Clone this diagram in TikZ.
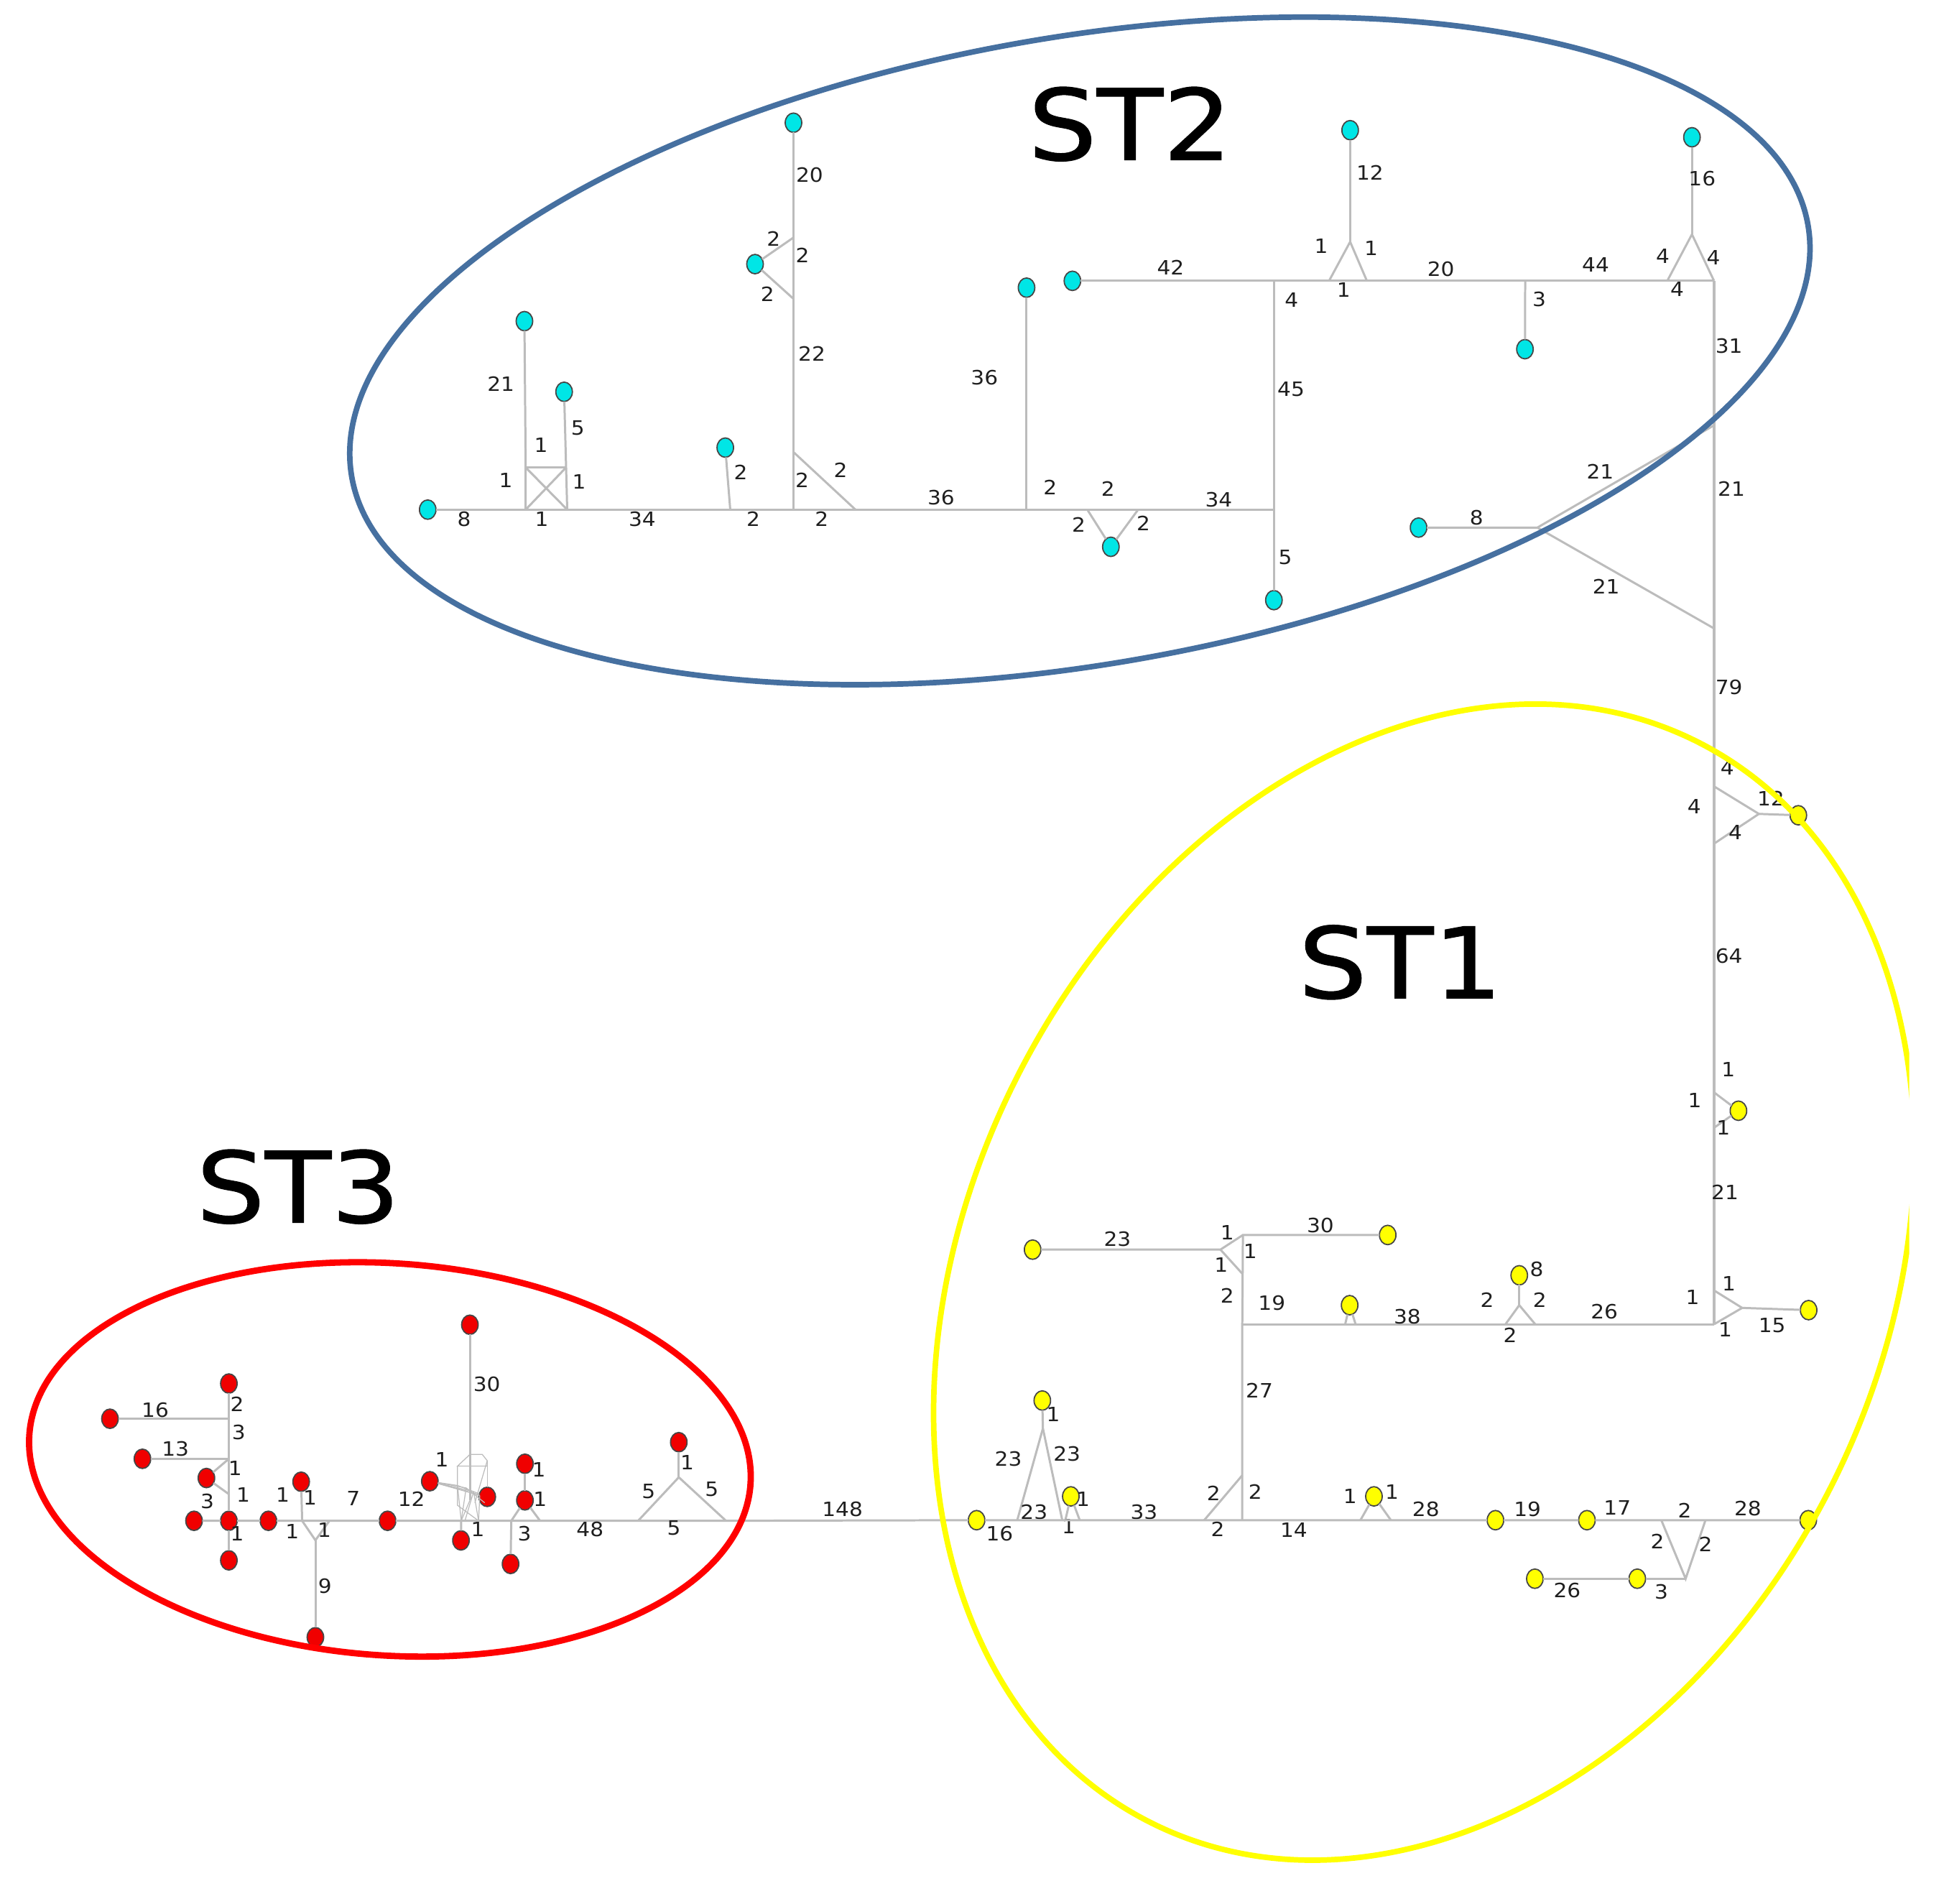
\documentclass[tikz,border=0pt]{standalone}
\usepackage{fontspec}
\setmainfont{DejaVu Sans}
\newfontfamily\titlefont[FakeBold=0.8]{DejaVu Sans}
\usetikzlibrary{shapes.geometric}
\definecolor{cyanN}{RGB}{0,230,230}
\definecolor{yelN}{RGB}{255,255,0}
\definecolor{redN}{RGB}{240,0,0}
\definecolor{edgeG}{RGB}{188,188,188}
\definecolor{nodeE}{RGB}{70,70,70}
\definecolor{stblue}{RGB}{70,112,160}
\definecolor{styel}{RGB}{255,255,0}
\definecolor{stred}{RGB}{255,0,0}
\newcounter{lbc}
\newcommand\lab[2]{\stepcounter{lbc}\node[lbl] (lb\arabic{lbc}) at (#1) {#2};}
\tikzset{
 vnode/.style={ellipse, draw=nodeE, line width=0.5pt, minimum width=0.23cm, minimum height=0.27cm, inner sep=0pt, outer sep=0pt},
 cn/.style={vnode, fill=cyanN},
 yn/.style={vnode, fill=yelN},
 rn/.style={vnode, fill=redN},
 edge/.style={draw=edgeG, line width=0.85pt},
 trunk/.style={draw=edgeG, line width=1.15pt},
 fine/.style={draw=edgeG, line width=0.35pt},
 lbl/.style={font=\fontsize{7.8}{9}\selectfont, text=black!88, inner sep=0pt, xscale=1.08},
 title/.style={font=\titlefont\fontsize{39}{44}\selectfont, inner sep=0pt, anchor=base, xscale=1.1},
}
\begin{document}
\begin{tikzpicture}[x=0.017258cm, y=-0.017258cm]
\fill[white] (0,0) rectangle (1568,1535);
\useasboundingbox (0,0) rectangle (1568,1535);

% ================= ST2 =================
\node[cn] (c1) at (345,411) {};
\node[cn] (c2) at (423,259) {};
\node[cn] (c3) at (455,316) {};
\node[cn] (c4) at (585,361) {};
\node[cn] (c5) at (640,99) {};
\node[cn] (c6) at (609,213) {};
\node[cn] (c7) at (828,232) {};
\node[cn] (c8) at (865,226.5) {};
\node[cn] (c9) at (896,441) {};
\node[cn] (c10) at (1027.5,484) {};
\node[cn] (c11) at (1089,105) {};
\node[cn] (c12) at (1230,281.6) {};
\node[cn] (c13) at (1364.7,110.7) {};
\node[cn] (c14) at (1144.2,425.5) {};

\coordinate (j1) at (424,411);
\coordinate (j2) at (457.5,411);
\coordinate (j3) at (424,377);
\coordinate (j4) at (456.6,377);
\coordinate (j5) at (589,411);
\coordinate (j6) at (640,411);
\coordinate (j7) at (640,191.6);
\coordinate (j8) at (640,241);
\coordinate (j9) at (640,364.6);
\coordinate (j10) at (690,411);
\coordinate (j11) at (828,411);
\coordinate (j12) at (877,411);
\coordinate (j13) at (918,411);
\coordinate (j14) at (1027.5,411);
\coordinate (j15) at (1027.5,226.5);
\coordinate (j16) at (1072,226.5);
\coordinate (j17) at (1102.5,226.5);
\coordinate (j18) at (1089,195);
\coordinate (j19) at (1230.2,226.5);
\coordinate (j20) at (1344.8,226.5);
\coordinate (j21) at (1382.5,226.5);
\coordinate (j22) at (1364.7,189);
\coordinate (j23) at (1240,425.5);
\coordinate (j24) at (1382.5,343);
\coordinate (j25) at (1382.5,506.8);

\draw[edge] (c1) -- (j1) -- (j2) -- (j5) -- (j6) -- (j10) -- (j11) -- (j12) -- (j13) -- (j14);
\draw[edge] (c2) -- (j3) -- (j1);
\draw[edge] (c3) -- (j4) -- (j2);
\draw[edge] (j3) -- (j4);
\draw[edge] (j3) -- (j2);
\draw[edge] (j4) -- (j1);
\draw[edge] (c4) -- (j5);
\draw[edge] (c5) -- (j7) -- (j8) -- (j9) -- (j6);
\draw[edge] (j7) -- (c6) -- (j8);
\draw[edge] (j9) -- (j10);
\draw[edge] (c7) -- (j11);
\draw[edge] (j12) -- (c9) -- (j13);
\draw[edge] (c10) -- (j14) -- (j15);
\draw[edge] (c8) -- (j15) -- (j16) -- (j17) -- (j19) -- (j20) -- (j21);
\draw[edge] (j16) -- (j18) -- (j17);
\draw[edge] (j18) -- (c11);
\draw[edge] (j19) -- (c12);
\draw[edge] (j20) -- (j22) -- (j21);
\draw[edge] (j22) -- (c13);
\draw[edge] (c14) -- (j23) -- (j24);
\draw[edge] (j23) -- (j25);

\lab{374.4,418.6}{8}
\lab{404,309.5}{21}
\lab{466,345.4}{5}
\lab{436.4,358.8}{1}
\lab{408,387.4}{1}
\lab{467,388.6}{1}
\lab{437,418.6}{1}
\lab{518,418.6}{34}
\lab{597.4,381}{2}
\lab{607.6,418.6}{2}
\lab{653,141}{20}
\lab{624,192.8}{2}
\lab{647.3,206}{2}
\lab{619,237.3}{2}
\lab{654.8,285.3}{22}
\lab{678,379}{2}
\lab{647,387.4}{2}
\lab{662.8,418.6}{2}
\lab{794,304.8}{36}
\lab{759,401.4}{36}
\lab{944.2,215.6}{42}
\lab{1041.8,242}{4}
\lab{1041.3,314}{45}
\lab{1036.6,449.6}{5}
\lab{983,403.2}{34}
\lab{847,392.9}{2}
\lab{893.7,394}{2}
\lab{870,423}{2}
\lab{922.2,422}{2}
\lab{1105,139.3}{12}
\lab{1065.6,198.7}{1}
\lab{1105.9,200}{1}
\lab{1083.8,233.7}{1}
\lab{1162.2,217.1}{20}
\lab{1241.5,241.6}{3}
\lab{1287,213.6}{44}
\lab{1372.9,143.8}{16}
\lab{1341.2,206.7}{4}
\lab{1382,207.7}{4}
\lab{1352.7,233.4}{4}
\lab{1394.5,279.2}{31}
\lab{1396.5,394.5}{21}
\lab{1191,417.6}{8}
\lab{1290.7,380.3}{21}
\lab{1295.5,472.8}{21}

% ================= ST1 =================
\node[yn] (y1) at (1450.5,657.5) {};
\node[yn] (y2) at (1402.2,895.8) {};
\node[yn] (y3) at (1458.8,1056.6) {};
\node[yn] (y4) at (1088.6,1052.6) {};
\node[yn] (y5) at (1225.4,1028.5) {};
\node[yn] (y6) at (832.9,1007.8) {};
\node[yn] (y7) at (1119.3,996) {};
\node[yn] (y8) at (787.7,1226) {};
\node[yn] (y9) at (840.7,1129.5) {};
\node[yn] (y10) at (863.7,1206.8) {};
\node[yn] (y11) at (1108.2,1206.8) {};
\node[yn] (y12) at (1206.2,1226) {};
\node[yn] (y13) at (1280,1226) {};
\node[yn] (y14) at (1320.6,1273.2) {};
\node[yn] (y15) at (1238,1273.2) {};
\node[yn] (y16) at (1458.5,1226) {};

\coordinate (k1) at (1382.5,634.2);
\coordinate (k2) at (1382.5,680.4);
\coordinate (k3) at (1418.7,656.4);
\coordinate (k4) at (1382.5,881);
\coordinate (k5) at (1382.5,909.5);
\coordinate (k6) at (1382.5,1040.7);
\coordinate (k7) at (1382.5,1068);
\coordinate (k8) at (1405.2,1054.8);
\coordinate (k9) at (1002,1068);
\coordinate (k10) at (1085,1068);
\coordinate (k11) at (1093.4,1068);
\coordinate (k12) at (1225.4,1052.6);
\coordinate (k13) at (1214.3,1068);
\coordinate (k14) at (1238.3,1068);
\coordinate (k15) at (984.4,1007.8);
\coordinate (k16) at (1002.5,996);
\coordinate (k17) at (1002.3,1027.5);
\coordinate (k18) at (1002,1226);
\coordinate (k19) at (1002,1189.8);
\coordinate (k20) at (971.3,1226);
\coordinate (k21) at (841.2,1152);
\coordinate (k22) at (820.5,1226);
\coordinate (k23) at (856.8,1226);
\coordinate (k24) at (859.3,1226);
\coordinate (k25) at (870.9,1226);
\coordinate (k26) at (1097.3,1226);
\coordinate (k27) at (1121.9,1226);
\coordinate (k28) at (1340,1226);
\coordinate (k29) at (1375.6,1226);
\coordinate (k30) at (1359.6,1273.2);

\draw[trunk] (j21) -- (j24) -- (j25) -- (k1) -- (k2) -- (k4) -- (k5) -- (k6) -- (k7);
\draw[edge] (k1) -- (k3) -- (k2);
\draw[edge] (k3) -- (y1);
\draw[edge] (k4) -- (y2) -- (k5);
\draw[edge] (k6) -- (k8) -- (k7);
\draw[edge] (k8) -- (y3);
\draw[edge] (k7) -- (k14) -- (k13) -- (k11) -- (k10) -- (k9);
\draw[edge] (k10) -- (y4) -- (k11);
\draw[edge] (k13) -- (k12) -- (k14);
\draw[edge] (k12) -- (y5);
\draw[edge] (y6) -- (k15) -- (k16) -- (y7);
\draw[edge] (k15) -- (k17);
\draw[edge] (k16) -- (k17) -- (k9) -- (k19) -- (k18);
\draw[edge] (k19) -- (k20);
\draw[edge] (y9) -- (k21) -- (k22);
\draw[edge] (k21) -- (k23);
\draw[edge] (k24) -- (y10) -- (k25);
\draw[edge] (k26) -- (y11) -- (k27);
\draw[edge] (k28) -- (k30) -- (k29);
\draw[edge] (k30) -- (y14) -- (y15);

\lab{1394.5,554}{79}
\lab{1393.2,619.4}{4}
\lab{1366.5,650.2}{4}
\lab{1428.3,644.2}{12}
\lab{1399.7,671.2}{4}
\lab{1394.5,771}{64}
\lab{1394,862.5}{1}
\lab{1367,887.4}{1}
\lab{1390,909.5}{1}
\lab{1391.3,961.3}{21}
\lab{1394.5,1035.2}{1}
\lab{1365.2,1046.2}{1}
\lab{1391.6,1072}{1}
\lab{1429.3,1069}{15}
\lab{901.3,999.5}{23}
\lab{1065,988.5}{30}
\lab{989.9,993.8}{1}
\lab{1008.4,1009.2}{1}
\lab{985,1020.4}{1}
\lab{989.9,1045}{2}
\lab{1025.8,1050.7}{19}
\lab{1135.1,1062}{38}
\lab{1239.5,1023.7}{8}
\lab{1199.5,1048.4}{2}
\lab{1242,1048.4}{2}
\lab{1218,1076.8}{2}
\lab{1294,1058}{26}
\lab{1015.8,1121.2}{27}
\lab{849.5,1140.5}{1}
\lab{813.3,1176.3}{23}
\lab{860.6,1172.4}{23}
\lab{834,1219.7}{23}
\lab{806.3,1237}{16}
\lab{873.5,1209}{1}
\lab{861.9,1230.8}{1}
\lab{922.7,1219.2}{33}
\lab{978.8,1204.3}{2}
\lab{1012.5,1203}{2}
\lab{982.2,1233.3}{2}
\lab{1043.5,1233.8}{14}
\lab{1089,1206.8}{1}
\lab{1122.7,1203.3}{1}
\lab{1150.1,1217.2}{28}
\lab{1232,1217.2}{19}
\lab{1304.5,1215.9}{17}
\lab{1358.8,1218.4}{2}
\lab{1336.8,1243}{2}
\lab{1375.6,1245.4}{2}
\lab{1409.8,1216.4}{28}
\lab{1340,1283.5}{3}
\lab{1264,1282.9}{26}

% ================= ST3 =================
\node[rn] (r1) at (156.5,1226.5) {};
\node[rn] (r2) at (184.6,1226.5) {};
\node[rn] (r3) at (216.5,1226.5) {};
\node[rn] (r4) at (312.6,1226.5) {};
\node[rn] (r5) at (184.6,1115.8) {};
\node[rn] (r6) at (184.6,1258.4) {};
\node[rn] (r7) at (88.7,1144.2) {};
\node[rn] (r8) at (114.9,1176.5) {};
\node[rn] (r9) at (166.5,1192) {};
\node[rn] (r10) at (242.9,1195) {};
\node[rn] (r11) at (254.4,1320.4) {};
\node[rn] (r12) at (379,1068.4) {};
\node[rn] (r13) at (346.7,1194.6) {};
\node[rn] (r14) at (393,1207.2) {};
\node[rn] (r15) at (371.8,1242.3) {};
\node[rn] (r16) at (423.4,1180.5) {};
\node[rn] (r17) at (423.4,1210) {};
\node[rn] (r18) at (411.8,1261.3) {};
\node[rn] (r19) at (547.5,1163.1) {};

\coordinate (m1) at (184.6,1144.2);
\coordinate (m2) at (184.6,1176.5);
\coordinate (m3) at (184.6,1205);
\coordinate (m4) at (243.7,1226.5);
\coordinate (m5) at (265.7,1226.5);
\coordinate (m6) at (254.4,1242.2);
\coordinate (m7) at (412.4,1226.5);
\coordinate (m8) at (435.6,1226.5);
\coordinate (m9) at (547.5,1191.4);
\coordinate (m10) at (514.7,1226.5);
\coordinate (m11) at (585.6,1226.5);

% tangle
\coordinate (ta) at (379,1173);
\coordinate (tb) at (389,1173);
\coordinate (tc) at (393,1178);
\coordinate (td) at (369,1182.4);
\coordinate (te) at (393,1182.4);
\coordinate (tf) at (369,1214);
\coordinate (tw) at (379,1210);
\coordinate (f1) at (369,1198);
\coordinate (f2) at (376,1200);
\coordinate (f3) at (382,1203);
\coordinate (f4) at (387,1206);
\coordinate (b1) at (372,1226.5);
\coordinate (b2) at (386,1226.5);

\draw[edge] (r1) -- (r2) -- (r3) -- (m4) -- (m5) -- (r4) -- (b1) -- (b2) -- (m7) -- (m8) -- (m10) -- (m11) -- (y8) -- (k22) -- (k23) -- (k24) -- (k25) -- (k20) -- (k18) -- (k26) -- (k27) -- (y12) -- (y13) -- (k28) -- (k29) -- (y16);
\draw[edge] (r5) -- (m1) -- (m2) -- (m3) -- (r2) -- (r6);
\draw[edge] (r7) -- (m1);
\draw[edge] (r8) -- (m2);
\draw[edge] (m2) -- (r9) -- (m3);
\draw[edge] (r10) -- (m4) -- (m6) -- (m5);
\draw[edge] (m6) -- (r11);
\draw[edge] (r16) -- (r17);
\draw[edge] (m7) -- (r17) -- (m8);
\draw[edge] (m7) -- (r18);
\draw[edge] (r19) -- (m9);
\draw[edge] (m10) -- (m9) -- (m11);
\draw[edge] (r12) -- (ta) -- (tw);
\draw[fine] (ta) -- (tb) -- (tc) -- (te) -- (td) -- (ta);
\draw[fine] (td) -- (tf) -- (b2);
\draw[fine] (te) -- (r14);
\draw[fine] (tc) -- (383,1212);
\draw[fine] (r13) -- (f1);
\draw[fine] (r13) -- (f2);
\draw[fine] (r13) -- (f3);
\draw[fine] (r13) -- (f4);
\draw[fine] (r13) -- (r14);
\draw[fine] (f1) -- (b1);
\draw[fine] (f2) -- (b1);
\draw[fine] (f3) -- (b2);
\draw[fine] (f4) -- (b2);
\draw[fine] (tw) -- (b1);
\draw[fine] (f1) -- (r14);
\draw[fine] (f2) -- (391,1212);
\draw[fine] (f3) -- (375,1226.5);
\draw[edge] (b1) -- (r15);

\lab{125.2,1136.9}{16}
\lab{191.3,1132.4}{2}
\lab{192.5,1155.4}{3}
\lab{141.5,1168.6}{13}
\lab{189.6,1184.3}{1}
\lab{196.1,1205.6}{1}
\lab{167.2,1210.7}{3}
\lab{191.3,1237.1}{1}
\lab{228,1205.6}{1}
\lab{250.1,1207.6}{1}
\lab{235.7,1235.1}{1}
\lab{261.7,1234}{1}
\lab{262.1,1279.2}{9}
\lab{285,1208.7}{7}
\lab{331.8,1208.7}{12}
\lab{392.7,1116.4}{30}
\lab{356.4,1177.2}{1}
\lab{385.3,1233.3}{1}
\lab{434.6,1185}{1}
\lab{435.6,1209.1}{1}
\lab{423,1237.1}{3}
\lab{475.9,1233.3}{48}
\lab{554.2,1179.7}{1}
\lab{523.1,1203}{5}
\lab{574.1,1201.3}{5}
\lab{543.5,1232.3}{5}
\lab{679.5,1217.2}{148}

% ================= group outlines =================
\draw[draw=stblue, line width=2.2pt, rotate around={9.8:(871,283)}] (871,283) ellipse [x radius=10.286cm, y radius=4.366cm];
\begin{scope}
\clip (0,0) rectangle (1540,1535);
\draw[draw=styel, line width=2.2pt, rotate around={63:(1148.5,1034)}] (1148.5,1034) ellipse [x radius=8.429cm, y radius=6.342cm];
\end{scope}
\draw[draw=stred, line width=2.5pt, rotate around={-3.9:(314.5,1177)}] (314.5,1177) ellipse [x radius=5.031cm, y radius=2.729cm];

% titles
\node[title] (t2) at (911.5,129) {ST2};
\node[title] (t1) at (1129.5,805) {ST1};
\node[title] (t3) at (240.5,986) {ST3};
\end{tikzpicture}
\end{document}
